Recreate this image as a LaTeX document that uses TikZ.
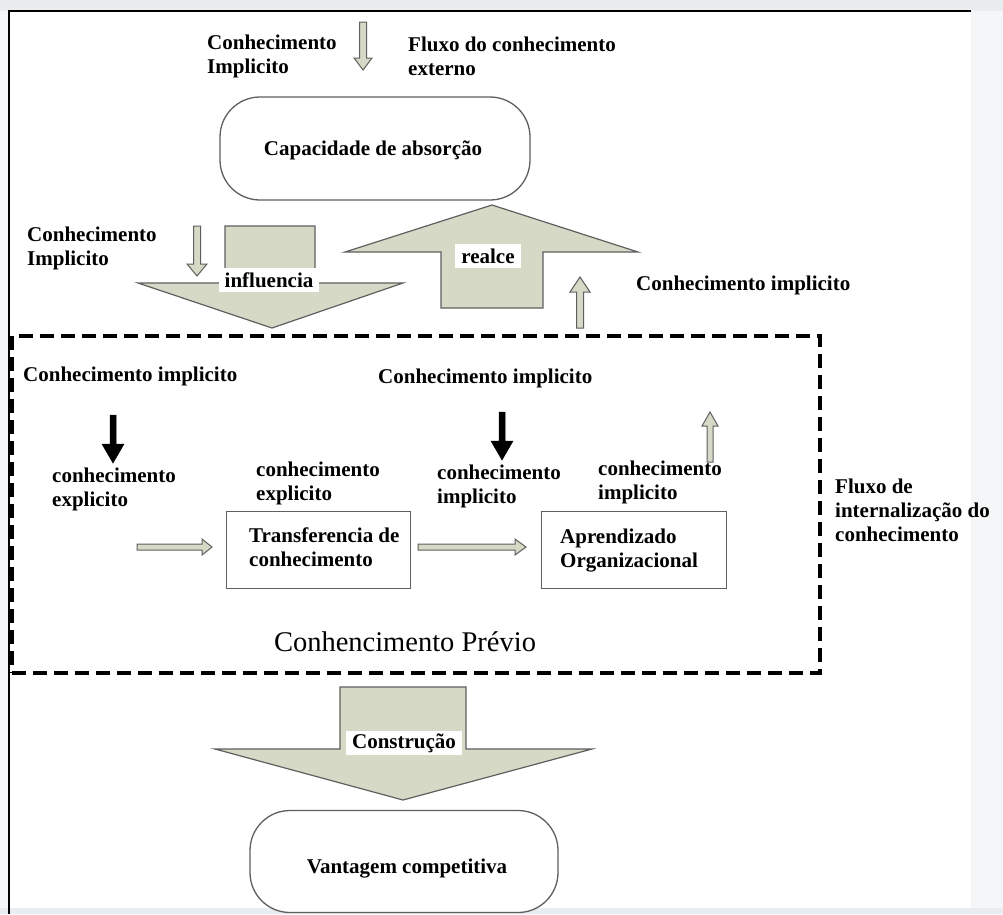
\documentclass[tikz,border=0pt]{standalone}
\usepackage{fontspec}
\setmainfont{Liberation Serif}
\definecolor{afill}{RGB}{214,217,197}
\definecolor{aline}{RGB}{95,95,95}
\definecolor{bgstrip}{RGB}{234,237,240}
\definecolor{bgside}{RGB}{245,246,247}
% vertical block arrow: style, x, y tail, y head base, y tip, half shaft, half head
\newcommand{\myvarr}[7]{%
  \path[#1] (#2-#6,#3) -- (#2+#6,#3) -- (#2+#6,#4) -- (#2+#7,#4) -- (#2,#5)
    -- (#2-#7,#4) -- (#2-#6,#4) -- cycle;}
% horizontal block arrow: style, x tail, x head base, x tip, y, half shaft, half head
\newcommand{\myharr}[7]{%
  \path[#1] (#2,#5-#6) -- (#3,#5-#6) -- (#3,#5-#7) -- (#4,#5) -- (#3,#5+#7)
    -- (#3,#5+#6) -- (#2,#5+#6) -- cycle;}
\begin{document}
\begin{tikzpicture}[x=1pt,y=-1pt,
  lbl/.style={font=\fontsize{21}{24}\selectfont\bfseries, inner sep=0pt, align=left, text=black},
  wlabel/.style={fill=white, font=\fontsize{21}{24}\selectfont\bfseries, inner xsep=6pt, inner ysep=0pt, minimum height=24pt},
  bigarrow/.style={fill=afill, draw=aline, line width=1.2pt, line join=miter},
  harrow/.style={fill=afill, draw=aline, line width=1pt},
  barrow/.style={fill=black, draw=black, line width=0.5pt},
  rbox/.style={draw=aline, line width=1.3pt, rounded corners=40pt, fill=white},
  sbox/.style={draw=aline, line width=1pt, fill=white},
  dbox/.style={draw=black, line width=3.6pt, dash pattern=on 14pt off 7pt}
]
\useasboundingbox (0,0) rectangle (1003,914);
\fill[bgside] (0,0) rectangle (1003,914);
\fill[bgstrip] (0,0) rectangle (1003,11);
\fill[bgstrip] (0,908) rectangle (1003,914);
\fill[white] (9,11) rectangle (971,908);
\draw[line width=2.2pt] (971,11) -- (9,11) -- (9,914);

% top
\node[lbl, anchor=west] (topA) at (207,56) {Conhecimento\\Implicito};
\myvarr{harrow}{363}{22}{58}{70}{3.5}{9}
\node[lbl, anchor=west] (topB) at (408,56) {Fluxo do conhecimento\\externo};
\node[rbox, minimum width=310pt, minimum height=103pt] (cap) at (375,148.5) {};
\node[lbl] (capt) at (373,150) {Capacidade de absorção};

% influencia / realce
\node[lbl, anchor=west] (leftA) at (27,248) {Conhecimento\\Implicito};
\myvarr{harrow}{197}{226}{264}{276}{3.5}{10}
\path[bigarrow] (225,226) -- (315,226) -- (315,283) -- (403,283) -- (272,328)
  -- (138,283) -- (225,283) -- cycle;
\node[wlabel] (infl) at (269,280) {influencia};
\path[bigarrow] (441,308) -- (543,308) -- (543,252) -- (638,252) -- (492,205)
  -- (345,252) -- (441,252) -- cycle;
\node[wlabel] (realce) at (488,256) {realce};
\myvarr{harrow}{580}{328}{292}{277}{3.5}{10}
\node[lbl, anchor=west] (rightA) at (636,285) {Conhecimento implicito};

% dashed region
\node[dbox, minimum width=808pt, minimum height=337pt] (prev) at (416,504.5) {};
\node[lbl, anchor=west] (ci1) at (23,376) {Conhecimento implicito};
\node[lbl, anchor=west] (ci2) at (378,378) {Conhecimento implicito};
\myvarr{barrow}{113}{415}{444}{463}{3}{11}
\myvarr{barrow}{502}{412}{441}{460}{3}{11}
\myvarr{harrow}{710}{462}{426}{412}{3}{8}
\node[lbl, anchor=west] (ce1) at (52,489) {conhecimento\\explicito};
\node[lbl, anchor=west] (ce2) at (256,483) {conhecimento\\explicito};
\node[lbl, anchor=west] (ci3) at (437,486) {conhecimento\\implicito};
\node[lbl, anchor=west] (ci4) at (598,482) {conhecimento\\implicito};

\node[sbox, minimum width=184pt, minimum height=77pt] (tc) at (318,549.5) {};
\node[lbl, anchor=west] (tct) at (249,547) {Transferencia de\\conhecimento};
\node[sbox, minimum width=185pt, minimum height=77pt] (ao) at (633.5,549.5) {};
\node[lbl, anchor=west] (aot) at (560,551) {Aprendizado\\Organizacional};
\myharr{harrow}{137}{202}{212}{547}{3}{8}
\myharr{harrow}{418}{515}{526}{547}{3}{8}

\node[font=\fontsize{28.5}{30}\selectfont, inner sep=0pt] (prevt) at (405,642) {Conhencimento Prévio};
\node[lbl, anchor=west] (flux) at (835,510) {Fluxo de\\internalização do\\conhecimento};

% construcao
\path[bigarrow] (340,687) -- (466,687) -- (466,749) -- (592,749) -- (403,800)
  -- (215,749) -- (340,749) -- cycle;
\node[wlabel] (constr) at (404,743) {Construção};
\node[rbox, minimum width=308pt, minimum height=102pt] (vc) at (404,861.5) {};
\node[lbl] (vct) at (407,869) {Vantagem competitiva};
\end{tikzpicture}
\end{document}
